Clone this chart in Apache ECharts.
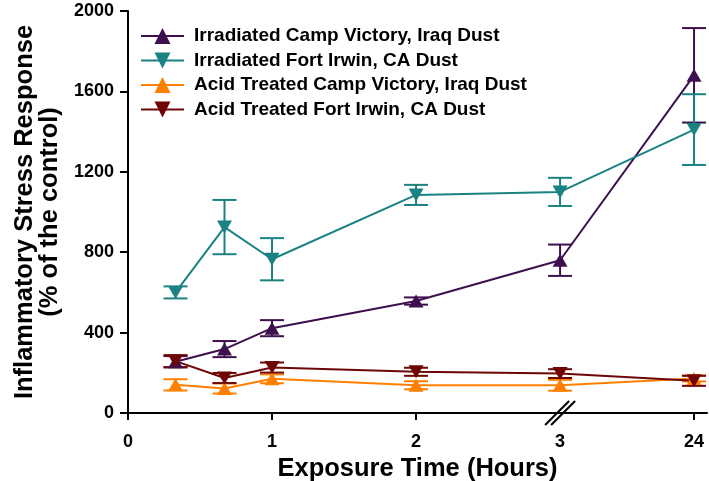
<!DOCTYPE html>
<html>
<head>
<meta charset="utf-8">
<script src="https://cdn.jsdelivr.net/npm/echarts@6/dist/echarts.min.js"></script>
<style>html,body{margin:0;padding:0;background:#fff}#c{width:709px;height:481px}</style>
</head>
<body>
<div id="c"></div>
<script>
// ---- data ----
var hours = [0.33, 0.67, 1, 2, 3, 24];
var xTickLabels = ['0', '1', '2', '3', '24'];
var xTickHours = [0, 1, 2, 3, 24];
var seriesNames = [
  'Irradiated Camp Victory, Iraq Dust',
  'Irradiated Fort Irwin, CA Dust',
  'Acid Treated Camp Victory, Iraq Dust',
  'Acid Treated Fort Irwin, CA Dust'
];
var irrCampMean = [255, 318, 422, 557, 760, 1680];
var irrCampErr  = [28, 40, 40, 18, 78, 235];
var irrFortMean = [600, 925, 765, 1085, 1100, 1410];
var irrFortErr  = [30, 135, 105, 50, 70, 176];
var acidCampMean = [140, 122, 170, 138, 138, 172];
var acidCampErr  = [28, 25, 22, 20, 27, 15];
var acidFortMean = [258, 174, 226, 205, 196, 160];
var acidFortErr  = [30, 25, 25, 20, 22, 25];

// ---- layout / style ----
var BREAK_POS = 3.93; // axis position where "24 h" is drawn (broken axis)
function pos(h) { return h <= 3 ? h : BREAK_POS; }
var colors = ['#3e0f4e', '#1a8282', '#ff8000', '#6e0606'];
var symbols = ['triangle', 'triangle', 'triangle', 'triangle'];
var rotates = [0, 180, 0, 180];
var FONT = '"Liberation Sans", Arial, sans-serif';

var means = [irrCampMean, irrFortMean, acidCampMean, acidFortMean];
var errs = [irrCampErr, irrFortErr, acidCampErr, acidFortErr];

var series = [];
// error bars first (drawn under)
means.forEach(function (m, i) {
  series.push({
    type: 'custom',
    name: 'err' + i,
    z: 2,
    silent: true,
    data: hours.map(function (h, k) { return [pos(h), m[k] - errs[i][k], m[k] + errs[i][k]]; }),
    encode: { x: 0, y: [1, 2] },
    renderItem: function (params, api) {
      var lo = api.coord([api.value(0), api.value(1)]);
      var hi = api.coord([api.value(0), api.value(2)]);
      var hw = 12;
      var st = { stroke: colors[i], lineWidth: 2, fill: null };
      return {
        type: 'group',
        children: [
          { type: 'line', shape: { x1: lo[0], y1: lo[1], x2: hi[0], y2: hi[1] }, style: st },
          { type: 'line', shape: { x1: lo[0] - hw, y1: lo[1], x2: lo[0] + hw, y2: lo[1] }, style: st },
          { type: 'line', shape: { x1: hi[0] - hw, y1: hi[1], x2: hi[0] + hw, y2: hi[1] }, style: st }
        ]
      };
    }
  });
});
means.forEach(function (m, i) {
  series.push({
    type: 'line',
    name: seriesNames[i],
    z: 3,
    data: hours.map(function (h, k) { return [pos(h), m[k]]; }),
    symbol: symbols[i],
    symbolRotate: rotates[i],
    symbolSize: [15, 13],
    showAllSymbol: true,
    itemStyle: { color: colors[i], opacity: 1 },
    lineStyle: { color: colors[i], width: 2 },
    emphasis: { disabled: true },
    animation: false
  });
});

var chart = echarts.init(document.getElementById('c'), null, { renderer: 'canvas' });
var tickPositions = xTickHours.map(pos);
chart.setOption({
  animation: false,
  backgroundColor: '#fff',
  textStyle: { fontFamily: FONT },
  grid: { left: 128, right: 2, top: 11, bottom: 68, containLabel: false, outerBoundsMode: 'none' },
  legend: {
    data: seriesNames,
    orient: 'vertical',
    left: 135,
    top: 21,
    itemWidth: 43,
    itemHeight: 20,
    itemGap: 4.5,
    symbolRotate: 'inherit',
    textStyle: { fontFamily: FONT, fontSize: 19, fontWeight: 'bold', color: '#000', lineHeight: 20, padding: [0, 0, 0, 5] },
    selectedMode: false
  },
  xAxis: {
    type: 'value',
    min: 0,
    max: 4.02,
    name: 'Exposure Time (Hours)',
    nameLocation: 'middle',
    nameGap: 40,
    nameTextStyle: { fontFamily: FONT, fontSize: 25.5, fontWeight: 'bold', color: '#000' },
    axisLine: { show: true, lineStyle: { color: '#000', width: 2 } },
    axisTick: { show: true, inside: false, length: 7, lineStyle: { color: '#000', width: 2 }, customValues: [0, 1, 2, BREAK_POS] },
    axisLabel: {
      customValues: tickPositions,
      formatter: function (v) {
        var idx = tickPositions.findIndex(function (p) { return Math.abs(p - v) < 1e-6; });
        return idx >= 0 ? xTickLabels[idx] : '';
      },
      fontFamily: FONT, fontSize: 18, fontWeight: 'bold', color: '#000', margin: 20
    },
    splitLine: { show: false }
  },
  yAxis: {
    type: 'value',
    min: 0,
    max: 2000,
    interval: 400,
    name: 'Inflammatory Stress Response\n(% of the control)',
    nameLocation: 'middle',
    nameRotate: 90,
    nameGap: 64,
    nameTextStyle: { fontFamily: FONT, fontSize: 25.5, fontWeight: 'bold', color: '#000', lineHeight: 25 },
    axisLine: { show: true, lineStyle: { color: '#000', width: 2 } },
    axisTick: { show: true, inside: false, length: 8, lineStyle: { color: '#000', width: 2 } },
    axisLabel: { fontFamily: FONT, fontSize: 18, fontWeight: 'bold', color: '#000', margin: 14, formatter: function (v) { return String(v); } },
    splitLine: { show: false }
  },
  series: series
});

// axis-break mark "//" at hour 3, placed via the axis scale
var p = chart.convertToPixel({ gridIndex: 0 }, [3, 0]);
var brk = [];
[-3, 3].forEach(function (o) {
  brk.push({
    type: 'line',
    shape: { x1: p[0] - 12 + o, y1: p[1] + 12, x2: p[0] + 12 + o, y2: p[1] - 12 },
    style: { stroke: '#000', lineWidth: 2 },
    z: 100
  });
});
chart.setOption({ graphic: brk });
</script>
</body>
</html>
